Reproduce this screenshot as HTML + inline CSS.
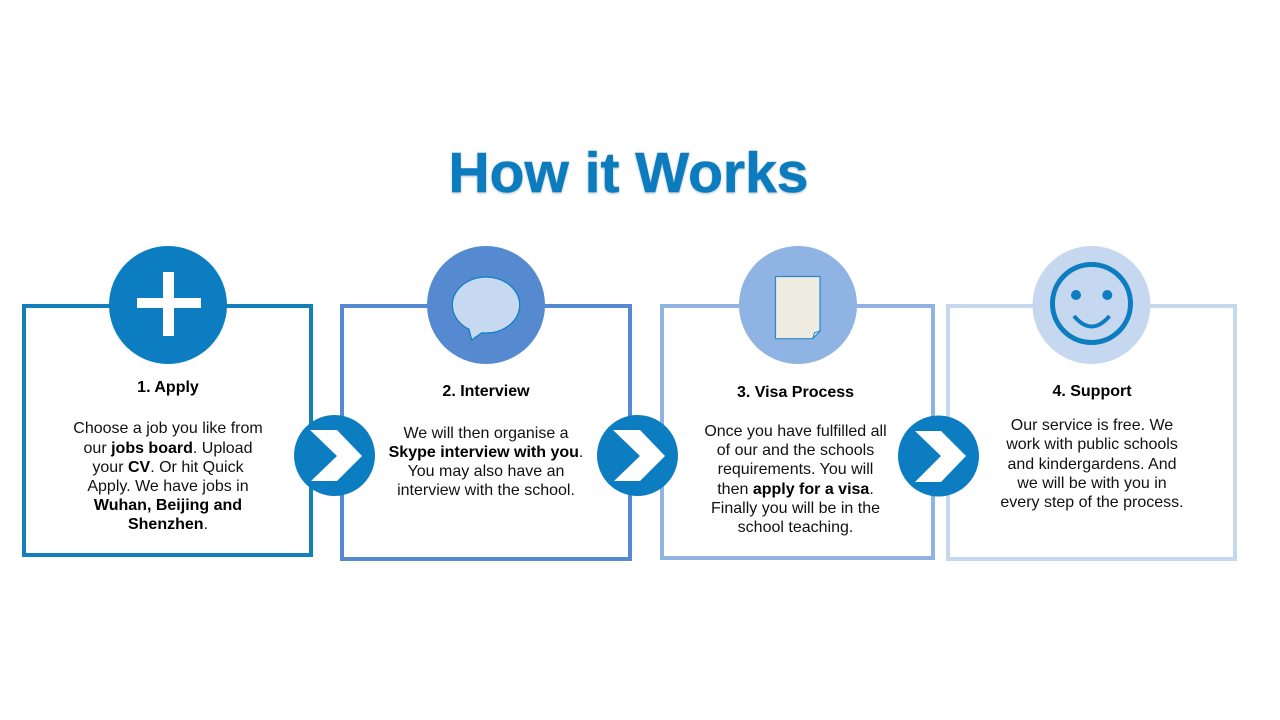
<!DOCTYPE html>
<html><head><meta charset="utf-8"><style>
html,body{margin:0;padding:0;background:#fff;width:1280px;height:720px;overflow:hidden}
svg{display:block}
text{font-family:"Liberation Sans",Arial,sans-serif;font-size:16px;fill:#111;text-anchor:middle}
.h{font-weight:bold;fill:#000}
.b{font-weight:bold;fill:#000}
</style></head><body>
<svg width="1280" height="720" viewBox="0 0 1280 720" xmlns="http://www.w3.org/2000/svg">
<text x="628.5" y="192" style="font-size:57px;font-weight:bold;fill:#0b7dc0;stroke:#0b7dc0;stroke-width:.5px;text-shadow:0 1px 2px rgba(60,90,120,.35)">How it Works</text>

<rect x="24" y="306" width="287" height="249" fill="none" stroke="#1380ba" stroke-width="4"/>
<rect x="342" y="306" width="288" height="253" fill="none" stroke="#568ad0" stroke-width="4"/>
<rect x="662" y="306" width="271" height="252" fill="none" stroke="#8fb3e2" stroke-width="4"/>
<rect x="948" y="306" width="287" height="253" fill="none" stroke="#c6d8ef" stroke-width="4"/>

<circle cx="168" cy="305" r="59" fill="#0b7dc0"/>
<rect x="137" y="298" width="64" height="10" fill="#fff"/>
<rect x="163" y="272" width="11" height="64" fill="#fff"/>

<circle cx="486" cy="305" r="59" fill="#568ad0"/>
<path d="M481.700 332.800 L471.700 340 L469 329.200 A33.700 28 0 1 1 481.700 332.800 Z" fill="#c6d9f1" stroke="#0b7dc0" stroke-width="1.200"/>

<circle cx="798" cy="305" r="59" fill="#8fb3e2"/>
<path d="M775.500 276.500 H820 V331 L812.700 338.700 H775.500 Z" fill="#eeece1" stroke="#2a8ac6" stroke-width="1.200"/>
<path d="M812.700 338.700 L814.500 332.700 L820 331 Z" fill="#d6e4f3" stroke="#2a8ac6" stroke-width="1"/>

<circle cx="1091.500" cy="305" r="59" fill="#c6d8ef"/>
<circle cx="1091.500" cy="303.500" r="39" fill="none" stroke="#0b7dc0" stroke-width="5"/>
<circle cx="1076" cy="295" r="5" fill="#0b7dc0"/>
<circle cx="1107.300" cy="295" r="5" fill="#0b7dc0"/>
<path d="M1074 316 Q1091.500 337 1109.500 316" fill="none" stroke="#0b7dc0" stroke-width="4"/>

<circle cx="334.500" cy="455.500" r="40.500" fill="#0b7dc0"/>
<path d="M310 430 H337 L362 456 L337 481 H311 L337 456 Z" fill="#fff"/>
<circle cx="637.500" cy="455.500" r="40.500" fill="#0b7dc0"/>
<path d="M613 430 H640 L665 456 L640 481 H614 L640 456 Z" fill="#fff"/>
<circle cx="938.500" cy="456" r="40.500" fill="#0b7dc0"/>
<path d="M915 431 H941 L966 456 L941 482 H915 L941 456 Z" fill="#fff"/>

<text class="h" x="168" y="392">1. Apply</text>
<text x="168" y="433">Choose a job you like from</text>
<text x="168" y="453">our <tspan class="b">jobs board</tspan>. Upload</text>
<text x="168" y="472">your <tspan class="b">CV</tspan>. Or hit Quick</text>
<text x="168" y="491">Apply. We have jobs in</text>
<text x="168" y="510" class="b">Wuhan, Beijing and</text>
<text x="168" y="529"><tspan class="b">Shenzhen</tspan>.</text>

<text class="h" x="486" y="396">2. Interview</text>
<text x="486" y="438">We will then organise a</text>
<text x="486" y="457"><tspan class="b">Skype interview with you</tspan>.</text>
<text x="486" y="476">You may also have an</text>
<text x="486" y="495">interview with the school.</text>

<text class="h" x="795.500" y="397">3. Visa Process</text>
<text x="795.500" y="436">Once you have fulfilled all</text>
<text x="795.500" y="455">of our and the schools</text>
<text x="795.500" y="474">requirements. You will</text>
<text x="795.500" y="494">then <tspan class="b">apply for a visa</tspan>.</text>
<text x="795.500" y="513">Finally you will be in the</text>
<text x="795.500" y="532">school teaching.</text>

<text class="h" x="1092" y="396">4. Support</text>
<text x="1092" y="430">Our service is free. We</text>
<text x="1092" y="449">work with public schools</text>
<text x="1092" y="469">and kindergardens. And</text>
<text x="1092" y="488">we will be with you in</text>
<text x="1092" y="507">every step of the process.</text>
</svg>
</body></html>
